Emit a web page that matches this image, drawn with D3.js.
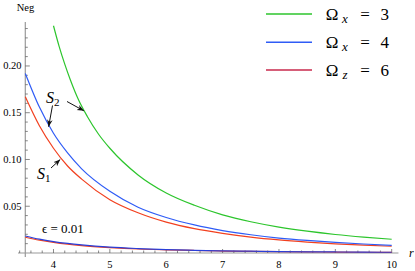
<!DOCTYPE html>
<html>
<head>
<meta charset="utf-8">
<script src="https://cdn.jsdelivr.net/npm/d3@7"></script>
<style>
  body { margin: 0; background: #fff; }
  svg { display: block; }
</style>
</head>
<body>
<svg id="chart" width="415" height="271"></svg>
<script>
// values
var rGreen = [4.0, 4.1, 4.2, 4.3, 4.45, 4.6, 4.8, 5.0, 5.5, 6.0, 6.5, 7.0, 7.5, 8.0, 8.5, 9.0, 9.5, 10.0];
var negGreen = [0.243, 0.221, 0.202, 0.185, 0.163, 0.146, 0.127, 0.112, 0.0835, 0.0642, 0.051, 0.0408, 0.0334, 0.0277, 0.0233, 0.0198, 0.0170, 0.0147];

var rAll = [3.5, 3.75, 4.0, 4.25, 4.5, 5.0, 5.5, 6.0, 6.5, 7.0, 7.5, 8.0, 8.5, 9.0, 9.5, 10.0];
var negBlue = [0.192, 0.156, 0.128, 0.107, 0.090, 0.066, 0.049, 0.038, 0.030, 0.024, 0.0195, 0.016, 0.0134, 0.0113, 0.0096, 0.0082];
var negRed = [0.167, 0.136, 0.112, 0.093, 0.079, 0.057, 0.043, 0.033, 0.026, 0.021, 0.017, 0.014, 0.0117, 0.0098, 0.0084, 0.0072];

// epsilon = 0.01 curves
var negBlueEps = [0.0182, 0.0148, 0.0122, 0.0102, 0.0086, 0.0062, 0.0047, 0.0036, 0.0029, 0.0023, 0.0019, 0.0015, 0.0013, 0.0011, 0.0009, 0.0008];
var negRedEps = [0.0168, 0.0137, 0.0113, 0.0094, 0.0079, 0.0058, 0.0043, 0.0034, 0.0027, 0.0021, 0.0017, 0.0014, 0.0012, 0.0010, 0.0008, 0.0007];

var xTicks = [4, 5, 6, 7, 8, 9, 10];
var yTicks = [0.05, 0.10, 0.15, 0.20];

var legendNames = ["x", "x", "z"];
var legendValues = ["3", "4", "6"];

var green = "#2cc52c", blue = "#2f5cf6", red = "#f2401f", legendRed = "#c9284c";
var serif = "Liberation Serif, DejaVu Serif, serif";

var svg = d3.select("#chart")
    .style("font-family", serif);

var x = d3.scaleLinear().domain([3.5, 10]).range([25.3, 391.7]);
var y = d3.scaleLinear().domain([0, 0.247]).range([253, 22]);

var axisColor = "#9a9a9a";

// x axis
svg.append("line")
    .attr("x1", x(3.37)).attr("x2", x(10.12))
    .attr("y1", y(0)).attr("y2", y(0))
    .attr("stroke", axisColor).attr("stroke-width", 1.2);

// y axis
svg.append("line")
    .attr("x1", x(3.5)).attr("x2", x(3.5))
    .attr("y1", y(0.247)).attr("y2", y(0) + 4)
    .attr("stroke", axisColor).attr("stroke-width", 1.2);

// x ticks (major every 1, minor every 0.2)
var xMinor = d3.range(3.4, 10.01, 0.2).map(function (d) { return Math.round(d * 10) / 10; });
svg.append("g").selectAll("line")
    .data(xMinor)
    .enter().append("line")
    .attr("x1", function (d) { return x(d); })
    .attr("x2", function (d) { return x(d); })
    .attr("y1", y(0))
    .attr("y2", function (d) { return xTicks.indexOf(d) >= 0 ? y(0) - 4 : y(0) - 2.5; })
    .attr("stroke", "#555").attr("stroke-width", 0.7);

svg.append("g").selectAll("text")
    .data(xTicks)
    .enter().append("text")
    .attr("x", function (d) { return x(d); })
    .attr("y", 267.5)
    .attr("text-anchor", "middle")
    .style("font-size", "10.5px")
    .text(function (d) { return d; });

// y ticks (major every 0.05, minor every 0.01)
var yMinor = d3.range(0.01, 0.2451, 0.01).map(function (d) { return Math.round(d * 100) / 100; });
svg.append("g").selectAll("line")
    .data(yMinor)
    .enter().append("line")
    .attr("x1", x(3.5))
    .attr("x2", function (d) {
        return yTicks.some(function (t) { return Math.abs(t - d) < 1e-9; }) ? x(3.5) + 4.5 : x(3.5) + 2.5;
    })
    .attr("y1", function (d) { return y(d); })
    .attr("y2", function (d) { return y(d); })
    .attr("stroke", "#555").attr("stroke-width", 0.7);

svg.append("g").selectAll("text")
    .data(yTicks)
    .enter().append("text")
    .attr("x", 21.5)
    .attr("y", function (d) { return y(d) + 3.5; })
    .attr("text-anchor", "end")
    .style("font-size", "10.5px")
    .text(function (d) { return d.toFixed(2); });

svg.append("text")
    .attr("x", 25.5).attr("y", 10.5)
    .attr("text-anchor", "middle")
    .style("font-size", "10.5px")
    .text("Neg");

svg.append("text")
    .attr("x", 409).attr("y", 256.5)
    .style("font-size", "12px")
    .style("font-style", "italic")
    .text("r");

// curves
var line = d3.line()
    .x(function (d) { return x(d[0]); })
    .y(function (d) { return y(d[1]); })
    .curve(d3.curveMonotoneX);

function drawCurve(xs, ys, color) {
    svg.append("path")
        .datum(d3.zip(xs, ys))
        .attr("d", line)
        .attr("fill", "none")
        .attr("stroke", color)
        .attr("stroke-width", 1.2);
}

drawCurve(rAll, negRedEps, red);
drawCurve(rAll, negBlueEps, "#2a3fd8");
drawCurve(rGreen, negGreen, green);
drawCurve(rAll, negRed, red);
drawCurve(rAll, negBlue, blue);

// annotations
svg.append("defs").append("marker")
    .attr("id", "arrow")
    .attr("viewBox", "0 0 10 10")
    .attr("refX", 10).attr("refY", 5)
    .attr("markerWidth", 7).attr("markerHeight", 7)
    .attr("markerUnits", "userSpaceOnUse")
    .attr("orient", "auto")
    .append("path")
    .attr("d", "M0,1 L10,5 L0,9 L3,5 Z")
    .attr("fill", "#111");

function arrow(x1, y1, x2, y2) {
    svg.append("line")
        .attr("x1", x1).attr("y1", y1)
        .attr("x2", x2).attr("y2", y2)
        .attr("stroke", "#111").attr("stroke-width", 1)
        .attr("marker-end", "url(#arrow)");
}

function label(px, py, main, sub) {
    var t = svg.append("text")
        .attr("x", px).attr("y", py)
        .style("font-size", "16px");
    t.append("tspan").style("font-style", "italic").text(main);
    t.append("tspan").attr("dy", 3).style("font-size", "11px").text(sub);
}

label(46, 102.5, "S", "2");
arrow(52.5, 105.5, 48.6, y(0.135));
arrow(67, 101.5, x(4.54), y(0.152));

label(37, 179, "S", "1");
arrow(51, 168, x(4.12), y(0.100));

svg.append("text")
    .attr("x", 42).attr("y", 232.5)
    .style("font-size", "13px")
    .text("\u03f5 = 0.01");

// legend
var legendColors = [green, blue, legendRed];
var legendY = [14, 42.3, 70];
var leg = svg.append("g").selectAll("g")
    .data(legendValues)
    .enter().append("g")
    .attr("transform", function (d, i) { return "translate(0," + legendY[i] + ")"; });

leg.append("line")
    .attr("x1", 266).attr("x2", 312)
    .attr("stroke", function (d, i) { return legendColors[i]; })
    .attr("stroke-width", 1.5);

leg.append("text")
    .attr("x", 332).attr("y", 6)
    .attr("text-anchor", "middle")
    .style("font-size", "17px")
    .text("\u03a9");

leg.append("text")
    .attr("x", 345).attr("y", 8.5)
    .attr("text-anchor", "middle")
    .style("font-size", "13px")
    .style("font-style", "italic")
    .text(function (d, i) { return legendNames[i]; });

leg.append("text")
    .attr("x", 365).attr("y", 6)
    .attr("text-anchor", "middle")
    .style("font-size", "17px")
    .text("=");

leg.append("text")
    .attr("x", 384.7).attr("y", 6)
    .attr("text-anchor", "middle")
    .style("font-size", "17px")
    .text(function (d) { return d; });
</script>
</body>
</html>
